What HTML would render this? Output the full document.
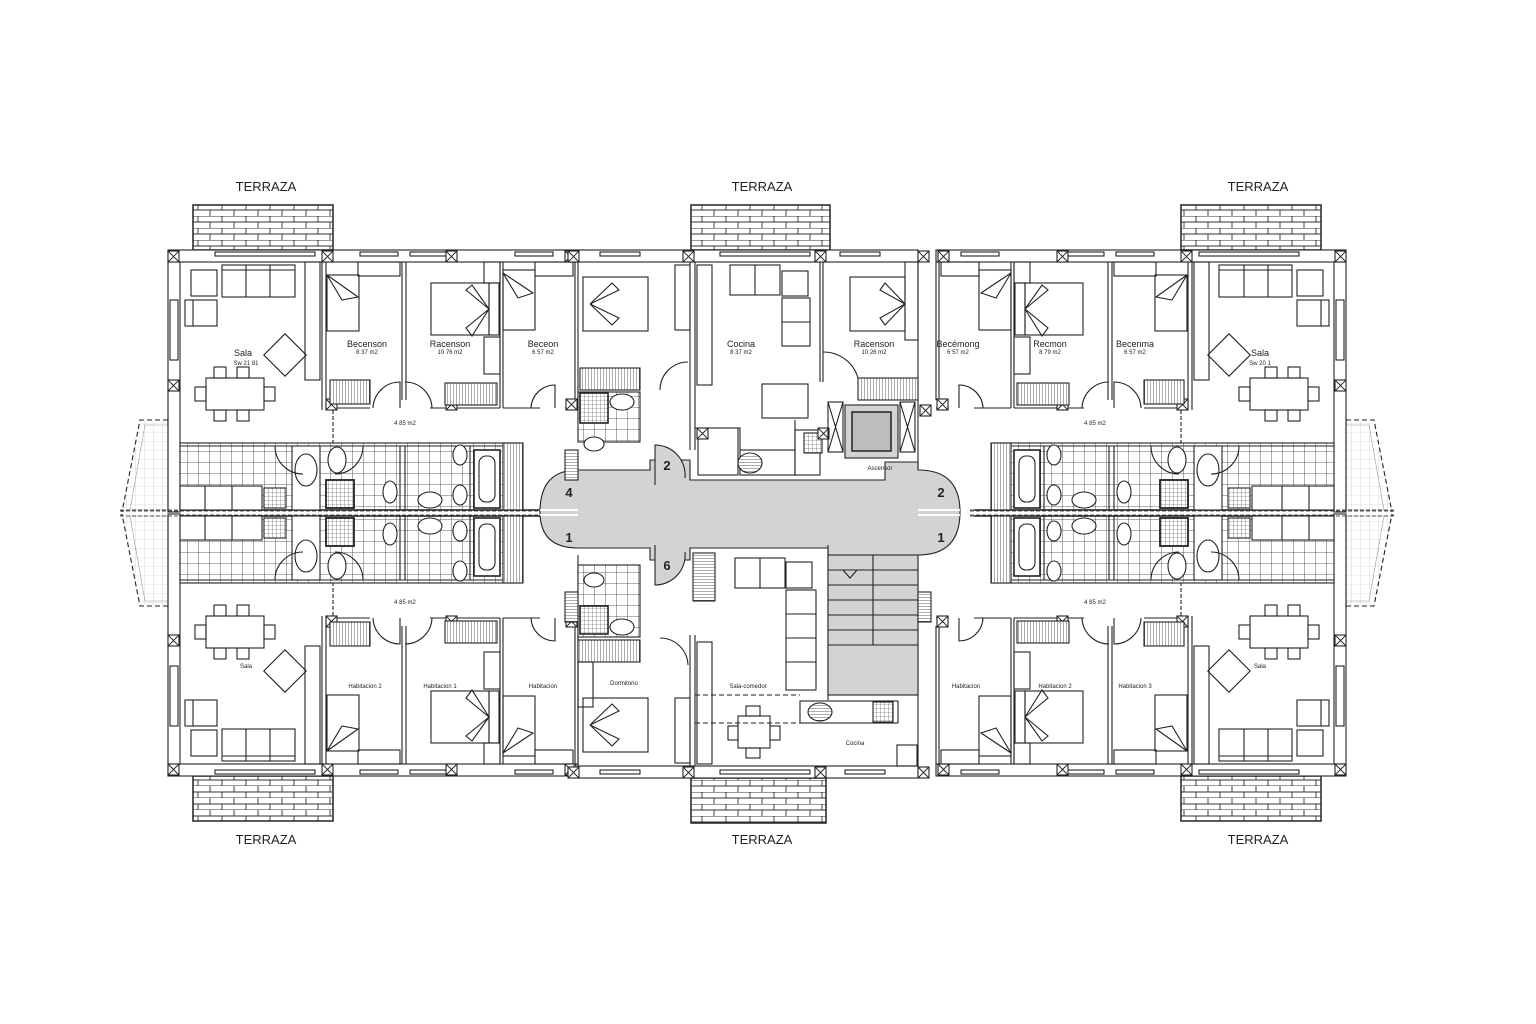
<!DOCTYPE html>
<html><head><meta charset="utf-8"><style>
html,body{margin:0;padding:0;background:#fff;}
svg{display:block;}
text{font-family:"Liberation Sans",sans-serif;fill:#222;}
</style></head><body>
<svg width="1536" height="1024" viewBox="0 0 1536 1024" xmlns="http://www.w3.org/2000/svg">
<defs>
<pattern id="tile" width="11" height="11" patternUnits="userSpaceOnUse"><rect width="11" height="11" fill="#fff"/><path d="M0 0H11M0 0V11" stroke="#333" stroke-width="0.8"/></pattern>
<pattern id="ftile" width="4" height="4" patternUnits="userSpaceOnUse"><rect width="4" height="4" fill="#fff"/><path d="M0 0H4M0 0V4" stroke="#444" stroke-width="0.6"/></pattern>
<pattern id="brick" width="24" height="12" patternUnits="userSpaceOnUse"><rect width="24" height="12" fill="#fff"/><path d="M0 0H24M0 6H24M6 0V6M18 6V12" stroke="#333" stroke-width="0.9"/></pattern>
<pattern id="hatch" width="3" height="10" patternUnits="userSpaceOnUse"><rect width="3" height="10" fill="#fff"/><path d="M0 0V10" stroke="#333" stroke-width="0.8"/></pattern>
<pattern id="hh" width="10" height="3" patternUnits="userSpaceOnUse"><rect width="10" height="3" fill="#fff"/><path d="M0 0H10" stroke="#333" stroke-width="0.8"/></pattern>
<pattern id="lgrid" width="9" height="9" patternUnits="userSpaceOnUse"><rect width="9" height="9" fill="#fff"/><path d="M0 0H9M0 0V9" stroke="#c4c4c4" stroke-width="0.6"/></pattern>

<g id="xb"><rect x="0" y="0" width="11" height="11" fill="#fff" stroke="#222"/><path d="M0 0L11 11M11 0L0 11" stroke="#222" stroke-width="0.9"/></g>

<g id="q" fill="none" stroke="#222" stroke-width="1.1">
  <!-- side balcony -->
  <path d="M168 420H140L122 512H168Z" fill="url(#lgrid)" stroke="none"/>
  <path d="M168 420H140L122 512" stroke-dasharray="5 3"/>
  <path d="M145 425H168L168 510H130Z" fill="url(#lgrid)" stroke="#999" stroke-width="0.6"/>
  <!-- terrace -->
  <rect x="193" y="205" width="140" height="45" fill="url(#brick)" stroke-width="1.5"/>
  <!-- outer walls -->
  <rect x="168" y="250" width="410" height="12" fill="#fff"/>
  <rect x="168" y="262" width="12" height="250" fill="#fff"/>
  <rect x="215" y="252" width="100" height="4" fill="#fff"/>
  <rect x="360" y="252" width="38" height="4"/><rect x="410" y="252" width="38" height="4"/><rect x="515" y="252" width="38" height="4"/>
  <rect x="170" y="300" width="8" height="60"/>
  <use href="#xb" x="168" y="251"/><use href="#xb" x="322" y="251"/><use href="#xb" x="446" y="251"/><use href="#xb" x="565" y="251"/>
  <use href="#xb" x="168" y="380"/>
  <!-- interior walls -->
  <path d="M322 262V410M326 262V410M402 262V400M406 262V400M500 262V408M503 262V408M575 262V400M578 262V400"/>
  <path d="M326 408H370M430 408H500M503 408H540M565 408H578"/>
  <use href="#xb" x="326" y="399"/><use href="#xb" x="446" y="399"/><use href="#xb" x="566" y="399"/>
  <path d="M333 410V443" stroke-dasharray="4 2"/>
  <!-- doors -->
  <path d="M373 408A27 27 0 0 1 400 382V408"/><path d="M405 382A27 27 0 0 1 432 408"/>
  <path d="M531 408A24 24 0 0 1 555 385V408"/>
  <!-- closets -->
  <rect x="330" y="380" width="40" height="24" fill="url(#hatch)"/>
  <rect x="445" y="383" width="52" height="22" fill="url(#hatch)"/>
  <!-- sala furniture -->
  <rect x="191" y="270" width="26" height="26"/><rect x="222" y="265" width="73" height="32"/><path d="M246 265V297M270 265V297M222 270H295"/>
  <rect x="185" y="300" width="32" height="26"/><path d="M193 300V326"/>
  <rect x="270" y="340" width="30" height="30" transform="rotate(45 285 355)"/>
  <rect x="305" y="262" width="15" height="118"/>
  <rect x="206" y="378" width="58" height="32"/>
  <rect x="214" y="367" width="12" height="11"/><rect x="237" y="367" width="12" height="11"/><rect x="214" y="410" width="12" height="11"/><rect x="237" y="410" width="12" height="11"/>
  <rect x="195" y="387" width="11" height="14"/><rect x="264" y="387" width="11" height="14"/>
  <!-- bedroom 1 -->
  <rect x="327" y="275" width="32" height="56"/><path d="M327 275L358 297L342 300Z"/><rect x="358" y="262" width="42" height="14"/>
  <!-- bedroom 2 -->
  <rect x="431" y="283" width="58" height="52"/><rect x="489" y="283" width="10" height="52"/><path d="M489 309L466 290L472 285ZM489 309L466 328L472 336Z"/>
  <rect x="484" y="262" width="16" height="21"/><rect x="484" y="337" width="16" height="37"/>
  <!-- bedroom 3 -->
  <rect x="503" y="270" width="32" height="60"/><path d="M503 273L533 293L518 298Z"/><rect x="535" y="262" width="38" height="14"/>
  <!-- band -->
  <rect x="180" y="443" width="340" height="67" fill="url(#tile)"/>
  <path d="M180 443H520M180 446H520"/>
  <path d="M180 510H540" stroke-width="1.5"/>
  <rect x="180" y="486" width="82" height="24" fill="#fff"/><path d="M205 486V510M232 486V510"/>
  <rect x="264" y="488" width="22" height="20" fill="url(#ftile)"/>
  <rect x="292" y="446" width="28" height="64" fill="#fff"/><ellipse cx="306" cy="470" rx="11" ry="16" fill="#fff"/>
  <rect x="326" y="480" width="28" height="28" fill="url(#ftile)" stroke-width="1.8"/>
  <ellipse cx="337" cy="460" rx="9" ry="13" fill="#fff"/>
  <path d="M400 446V510M405 446V510M470 446V510"/>
  <ellipse cx="390" cy="492" rx="7" ry="11" fill="#fff"/><ellipse cx="430" cy="500" rx="12" ry="8" fill="#fff"/>
  <ellipse cx="460" cy="455" rx="7" ry="10" fill="#fff"/><ellipse cx="460" cy="495" rx="7" ry="10" fill="#fff"/>
  <rect x="474" y="450" width="26" height="58" fill="#fff" stroke-width="1.6"/><rect x="479" y="456" width="16" height="46" rx="7"/>
  <rect x="503" y="443" width="20" height="67" fill="url(#hatch)"/>
  <path d="M275 446A28 28 0 0 0 303 474" /><path d="M363 446A28 28 0 0 1 335 474"/>
  <path d="M168 418V510" />
  <!-- axis -->
  <path d="M120 510H545M120 515H545" stroke-dasharray="4 2" stroke-width="0.8"/>
</g>
</defs>

<use href="#q"/>
<use href="#q" transform="translate(1514,0) scale(-1,1)"/>
<use href="#q" transform="translate(0,1026) scale(1,-1)"/>
<use href="#q" transform="translate(1514,1026) scale(-1,-1)"/>

<g fill="none" stroke="#222" stroke-width="1.1">
  <path d="M578 470H650V460H690V480H885V462H918V470Q960 470 960 512Q960 555 918 555H828V548H690V560H650V548H578Q540 548 540 512Q540 470 578 470Z" fill="#d3d3d3"/>
  <path d="M540 510H578M540 515H578M918 510H960M918 515H960" stroke="#fff" stroke-width="2"/>
  <path d="M655 485V445A30 30 0 0 1 685 478" fill="#d3d3d3"/>
  <path d="M655 545V585A30 30 0 0 0 685 552" fill="#d3d3d3"/>
  <rect x="691" y="205" width="139" height="45" fill="url(#brick)" stroke-width="1.5"/>
  <rect x="691" y="778" width="135" height="45" fill="url(#brick)" stroke-width="1.5"/>
  <rect x="578" y="250" width="340" height="12" fill="#fff"/>
  <rect x="578" y="766" width="340" height="12" fill="#fff"/>
  <rect x="600" y="252" width="40" height="4"/><rect x="720" y="252" width="90" height="4"/><rect x="840" y="252" width="40" height="4"/>
  <rect x="600" y="770" width="40" height="4"/><rect x="720" y="770" width="90" height="4"/><rect x="845" y="770" width="40" height="4"/>
  <use href="#xb" x="568" y="251"/><use href="#xb" x="683" y="251"/><use href="#xb" x="815" y="251"/><use href="#xb" x="918" y="251"/>
  <use href="#xb" x="568" y="767"/><use href="#xb" x="683" y="767"/><use href="#xb" x="815" y="767"/><use href="#xb" x="918" y="767"/>
  <path d="M690 262V450M695 262V450M820 262V382M823 262V382M918 262V470"/>
  <rect x="583" y="277" width="65" height="54"/><path d="M590 304L612 283L619 290ZM590 304L612 325L619 318Z"/>
  <rect x="580" y="368" width="60" height="22" fill="url(#hatch)"/>
  <rect x="578" y="392" width="62" height="50" fill="url(#tile)"/>
  <rect x="580" y="393" width="28" height="30" fill="url(#ftile)" stroke-width="1.6"/><ellipse cx="622" cy="402" rx="12" ry="8" fill="#fff"/>
  <ellipse cx="594" cy="444" rx="10" ry="7" fill="#fff"/>
  <rect x="675" y="265" width="15" height="65"/>
  <path d="M660 390A28 28 0 0 1 688 362"/>
  <rect x="697" y="265" width="15" height="120"/>
  <rect x="730" y="265" width="50" height="30"/><path d="M755 265V295"/>
  <rect x="782" y="271" width="26" height="25"/><rect x="782" y="298" width="28" height="48"/><path d="M782 322H810"/>
  <rect x="762" y="384" width="46" height="34"/>
  <path d="M695 428H740V450H795V420" /><rect x="698" y="428" width="40" height="47"/>
  <rect x="740" y="450" width="55" height="25"/><ellipse cx="750" cy="463" rx="12" ry="10" fill="url(#hh)"/>
  <rect x="795" y="430" width="25" height="45"/>
  <rect x="804" y="433" width="18" height="20" fill="url(#ftile)"/>
  <use href="#xb" x="818" y="428"/><use href="#xb" x="697" y="428"/>
  <path d="M823 352A36 36 0 0 1 858 378"/>
  <rect x="858" y="378" width="60" height="22" fill="url(#hatch)"/>
  <rect x="850" y="277" width="55" height="54"/><path d="M905 304L885 283L880 290ZM905 304L885 325L880 318Z"/>
  <rect x="905" y="262" width="13" height="78"/>
  <rect x="828" y="402" width="15" height="50"/><path d="M828 402L843 452M843 402L828 452"/>
  <rect x="845" y="405" width="53" height="53" fill="#d3d3d3"/><rect x="852" y="412" width="39" height="39" fill="#bdbdbd" stroke-width="1.5"/>
  <rect x="900" y="402" width="15" height="50"/><path d="M900 402L915 452M915 402L900 452"/>
  <use href="#xb" x="920" y="405"/>
  <path d="M578 555V766M690 635V766M695 635V766M828 545V700M918 555V766"/>
  <rect x="578" y="565" width="62" height="72" fill="url(#tile)"/>
  <ellipse cx="594" cy="580" rx="10" ry="7" fill="#fff"/>
  <rect x="580" y="606" width="28" height="28" fill="url(#ftile)" stroke-width="1.6"/><ellipse cx="622" cy="627" rx="12" ry="8" fill="#fff"/>
  <rect x="578" y="640" width="62" height="22" fill="url(#hatch)"/>
  <rect x="583" y="698" width="65" height="54"/><path d="M590 725L612 704L619 711ZM590 725L612 746L619 739Z"/>
  <rect x="578" y="662" width="15" height="45"/>
  <rect x="675" y="698" width="15" height="65"/>
  <path d="M660 638A28 28 0 0 1 688 665"/>
  <rect x="693" y="553" width="22" height="48" fill="url(#hh)"/>
  <rect x="697" y="642" width="15" height="122"/>
  <rect x="735" y="558" width="50" height="30"/><path d="M760 558V588"/>
  <rect x="786" y="562" width="26" height="26"/>
  <rect x="786" y="590" width="30" height="100"/><path d="M786 614H816M786 638H816M786 662H816"/>
  <path d="M695 695H800M695 723H800" stroke-dasharray="5 3"/>
  <rect x="738" y="716" width="32" height="32"/><rect x="746" y="706" width="14" height="10"/><rect x="746" y="748" width="14" height="10"/><rect x="728" y="726" width="10" height="14"/><rect x="770" y="726" width="10" height="14"/>
  <rect x="800" y="701" width="98" height="22"/><ellipse cx="820" cy="712" rx="12" ry="9" fill="url(#hh)"/><rect x="873" y="702" width="20" height="20" fill="url(#ftile)"/>
  <rect x="897" y="745" width="20" height="21"/>
  <rect x="828" y="555" width="90" height="140" fill="#d3d3d3"/>
  <path d="M828 570H918M828 585H918M828 600H918M828 615H918M828 630H918M828 645H918M873 555V645"/>
  <path d="M843 570L857 570L850 578Z"/>
  <rect x="918" y="592" width="13" height="30" fill="url(#hh)"/>
  <rect x="565" y="450" width="13" height="30" fill="url(#hh)"/>
  <rect x="565" y="592" width="13" height="30" fill="url(#hh)"/>
</g>

<g font-size="13" text-anchor="middle">
  <text x="266" y="191">TERRAZA</text><text x="762" y="191">TERRAZA</text><text x="1258" y="191">TERRAZA</text>
  <text x="266" y="844">TERRAZA</text><text x="762" y="844">TERRAZA</text><text x="1258" y="844">TERRAZA</text>
</g>
<g font-size="9" text-anchor="middle">
  <text x="243" y="356">Sala</text><text x="367" y="347">Becenson</text><text x="450" y="347">Racenson</text><text x="543" y="347">Beceon</text>
  <text x="741" y="347">Cocina</text><text x="874" y="347">Racenson</text><text x="958" y="347">Becémong</text><text x="1050" y="347">Recmon</text><text x="1135" y="347">Becenma</text><text x="1260" y="356">Sala</text>
</g>
<g font-size="6" text-anchor="middle" fill="#444">
  <text x="246" y="365">Sw 21 81</text><text x="367" y="354">8 37 m2</text><text x="450" y="354">10 76 m2</text><text x="543" y="354">6 57 m2</text><text x="741" y="354">8 37 m2</text><text x="874" y="354">10 26 m2</text><text x="958" y="354">6 57 m2</text><text x="1050" y="354">8 79 m2</text><text x="1135" y="354">6 57 m2</text><text x="1260" y="365">Sw 20 1</text>
  <text x="405" y="425">4 85 m2</text><text x="1095" y="425">4 85 m2</text><text x="405" y="604">4 85 m2</text><text x="1095" y="604">4 85 m2</text>
  <text x="365" y="688">Habitacion 2</text><text x="440" y="688">Habitacion 1</text><text x="543" y="688">Habitacion</text><text x="624" y="685">Dormitorio</text><text x="748" y="688">Sala-comedor</text><text x="855" y="745">Cocina</text>
  <text x="966" y="688">Habitacion</text><text x="1055" y="688">Habitacion 2</text><text x="1135" y="688">Habitacion 3</text><text x="246" y="668">Sala</text><text x="1260" y="668">Sala</text>
  <text x="880" y="470">Ascensor</text>
</g>
<g font-size="13" font-weight="bold" text-anchor="middle">
  <text x="569" y="497">4</text><text x="569" y="542">1</text><text x="667" y="470">2</text><text x="667" y="570">6</text><text x="941" y="497">2</text><text x="941" y="542">1</text>
</g>
</svg>
</body></html>
